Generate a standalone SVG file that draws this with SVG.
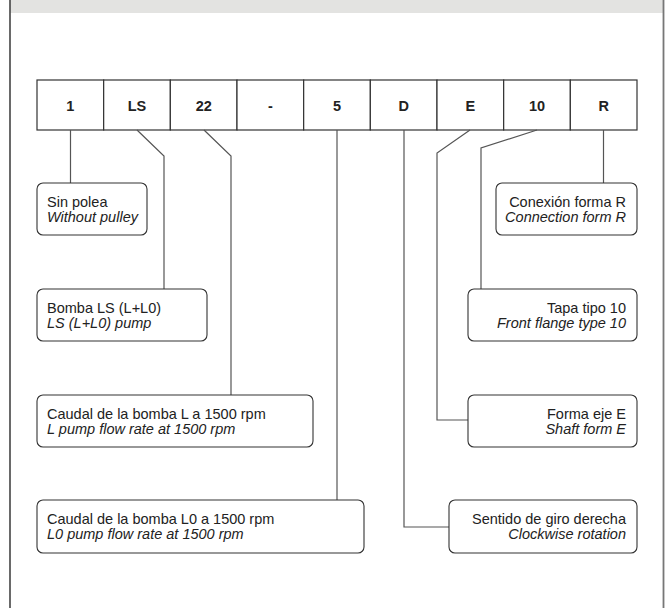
<svg xmlns="http://www.w3.org/2000/svg" width="669" height="608" viewBox="0 0 669 608">
<style>
.cell{fill:#fff;stroke:#333;stroke-width:1.2}
.cl{font-family:"Liberation Sans",Arial,sans-serif;font-size:14.5px;font-weight:bold;fill:#222;text-anchor:middle}
.box{fill:#fff;stroke:#333;stroke-width:1.1}
.t{font-family:"Liberation Sans",Arial,sans-serif;font-size:14.5px;fill:#222}
.i{font-style:italic}
.r{text-anchor:end}
.con{fill:none;stroke:#555;stroke-width:1.2}
</style>
<rect x="0" y="0" width="669" height="608" fill="#fff"/>
<rect x="10" y="0" width="654" height="13" fill="#e3e3e1"/>
<line x1="10" y1="0" x2="10" y2="608" stroke="#444" stroke-width="1.6"/>
<line x1="663.5" y1="0" x2="663.5" y2="608" stroke="#777" stroke-width="1.8"/>

<g id="code">
<rect class="cell" x="37" y="80" width="66.67" height="50"/>
<rect class="cell" x="103.67" y="80" width="66.67" height="50"/>
<rect class="cell" x="170.33" y="80" width="66.67" height="50"/>
<rect class="cell" x="237" y="80" width="66.67" height="50"/>
<rect class="cell" x="303.67" y="80" width="66.67" height="50"/>
<rect class="cell" x="370.33" y="80" width="66.67" height="50"/>
<rect class="cell" x="437" y="80" width="66.67" height="50"/>
<rect class="cell" x="503.67" y="80" width="66.67" height="50"/>
<rect class="cell" x="570.33" y="80" width="66.67" height="50"/>
<text class="cl" x="70.3" y="110.5">1</text>
<text class="cl" x="137" y="110.5">LS</text>
<text class="cl" x="203.7" y="110.5">22</text>
<text class="cl" x="270.3" y="110.5">-</text>
<text class="cl" x="337" y="110.5">5</text>
<text class="cl" x="403.7" y="110.5">D</text>
<text class="cl" x="470.3" y="110.5">E</text>
<text class="cl" x="537" y="110.5">10</text>
<text class="cl" x="603.7" y="110.5">R</text>
</g>

<g id="connectors">
<path class="con" d="M70.5,130 V183"/>
<path class="con" d="M137,130 L164,156 V289"/>
<path class="con" d="M204,130 L231,156 V395"/>
<path class="con" d="M337,130 V500"/>
<path class="con" d="M404,130 V527 H449"/>
<path class="con" d="M470,130 L437,153 V420 H468"/>
<path class="con" d="M537,130 L481,148 V289"/>
<path class="con" d="M603.5,130 V183"/>
</g>

<g id="n-sin-polea">
<rect class="box" x="37" y="183" width="110" height="52" rx="6"/>
<text class="t" x="47" y="207">Sin polea</text>
<text class="t i" x="47" y="222">Without pulley</text>
</g>
<g id="n-bomba">
<rect class="box" x="37" y="289" width="170" height="52" rx="6"/>
<text class="t" x="47" y="313">Bomba LS (L+L0)</text>
<text class="t i" x="47" y="328">LS (L+L0) pump</text>
</g>
<g id="n-caudal-l">
<rect class="box" x="37" y="395" width="276" height="52" rx="6"/>
<text class="t" x="47" y="419">Caudal de la bomba L a 1500 rpm</text>
<text class="t i" x="47" y="434">L pump flow rate at 1500 rpm</text>
</g>
<g id="n-caudal-l0">
<rect class="box" x="37" y="500" width="327" height="53" rx="6"/>
<text class="t" x="47" y="524">Caudal de la bomba L0 a 1500 rpm</text>
<text class="t i" x="47" y="539">L0 pump flow rate at 1500 rpm</text>
</g>
<g id="n-conexion">
<rect class="box" x="496" y="183" width="141" height="52" rx="6"/>
<text class="t r" x="626" y="207">Conexión forma R</text>
<text class="t i r" x="626" y="222">Connection form R</text>
</g>
<g id="n-tapa">
<rect class="box" x="468" y="289" width="169" height="52" rx="6"/>
<text class="t r" x="626" y="313">Tapa tipo 10</text>
<text class="t i r" x="626" y="328">Front flange type 10</text>
</g>
<g id="n-forma">
<rect class="box" x="468" y="395" width="169" height="52" rx="6"/>
<text class="t r" x="626" y="419">Forma eje E</text>
<text class="t i r" x="626" y="434">Shaft form E</text>
</g>
<g id="n-sentido">
<rect class="box" x="449" y="500" width="188" height="53" rx="6"/>
<text class="t r" x="626" y="524">Sentido de giro derecha</text>
<text class="t i r" x="626" y="539">Clockwise rotation</text>
</g>
</svg>
